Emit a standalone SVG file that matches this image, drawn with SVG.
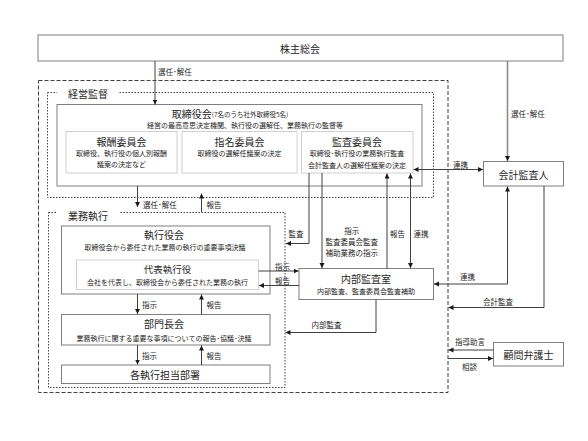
<svg xmlns="http://www.w3.org/2000/svg" width="588" height="441" viewBox="0 0 588 441">
<defs>
<marker id="ah" markerUnits="userSpaceOnUse" markerWidth="6" markerHeight="6" refX="5" refY="2.5" orient="auto-start-reverse">
<path d="M0,0 L5,2.5 L0,5 z" fill="#1a1a1a"/>
</marker>
<style>
text{font-family:"Noto Sans CJK JP","Noto Sans",sans-serif;fill:#262626;dominant-baseline:central}
.box{fill:#fff;stroke:#7f7f7f;stroke-width:1}
.sub{fill:#fff;stroke:#d0d0d0;stroke-width:1}
.t{font-size:10px;text-anchor:middle}
.d{font-size:7px;text-anchor:middle}
.l{font-size:7.5px}
.c{fill:none;stroke:#404040;stroke-width:1}
.ca{fill:none;stroke:#404040;stroke-width:1;marker-end:url(#ah)}
.cb{fill:none;stroke:#404040;stroke-width:1;marker-start:url(#ah);marker-end:url(#ah)}
.dash{fill:none;stroke:#404040;stroke-width:1;stroke-dasharray:4 2}
.dot{fill:none;stroke:#404040;stroke-width:1;stroke-dasharray:1.5 1.5}
</style>
</defs>
<rect width="588" height="441" fill="#fff"/>

<g id="group-outer">
<rect class="dash" x="38.5" y="80.5" width="409.5" height="312"/>
</g>
<g id="group-keiei">
<rect class="dot" x="47.5" y="92.5" width="386" height="105"/>
<rect x="57" y="87" width="62" height="12" fill="#fff"/>
<text class="t" x="88" y="93.5">経営監督</text>
</g>
<g id="group-gyomu">
<rect class="dot" x="48.5" y="212.5" width="236.5" height="175"/>
<rect x="57" y="207" width="62" height="12" fill="#fff"/>
<text class="t" x="88" y="215">業務執行</text>
</g>

<g id="kabunushi">
<rect class="box" x="38" y="35" width="525" height="26"/>
<text class="t" x="300" y="48">株主総会</text>
</g>

<g id="torishimariyakukai">
<rect class="box" x="57" y="104.5" width="365" height="81.5"/>
<text class="t" x="230" y="113.5">取締役会<tspan font-size="6.5px">(7名のうち社外取締役5名)</tspan></text>
<text class="d" x="245" y="124.5">経営の最高意思決定機関、執行役の選解任、業務執行の監督等</text>
</g>

<g id="hoshu">
<rect class="sub" x="66" y="131.5" width="111" height="41.5"/>
<text class="t" x="121.5" y="141.5">報酬委員会</text>
<text class="d" x="121.5" y="153">取締役、執行役の個人別報酬</text>
<text class="d" x="121.5" y="164">議案の決定など</text>
</g>

<g id="shimei">
<rect class="sub" x="182" y="131.5" width="115" height="41.5"/>
<text class="t" x="239.5" y="141.5">指名委員会</text>
<text class="d" x="239.5" y="153">取締役の選解任議案の決定</text>
</g>

<g id="kansa">
<rect class="sub" x="301.5" y="131.5" width="111.5" height="41.5"/>
<text class="t" x="357" y="141.5">監査委員会</text>
<text class="d" x="357" y="153">取締役･執行役の業務執行監査</text>
<text class="d" x="357" y="164.5">会計監査人の選解任議案の決定</text>
</g>

<g id="kaikei">
<rect class="box" x="483.5" y="161.5" width="80" height="24.5"/>
<text class="t" x="523.5" y="174">会計監査人</text>
</g>

<g id="shikkoyakukai">
<rect class="box" x="61.5" y="226" width="208.5" height="68"/>
<text class="t" x="164" y="234.5">執行役会</text>
<text class="d" x="165" y="246.5">取締役会から委任された業務の執行の重要事項決議</text>
</g>

<g id="daihyo">
<rect class="sub" x="76.5" y="260" width="182" height="29.5"/>
<text class="t" x="167.5" y="268.8" font-size="9.5px" style="font-size:9.5px">代表執行役</text>
<text class="d" x="167.5" y="281.5">会社を代表し、取締役会から委任された業務の執行</text>
</g>

<g id="naibu">
<rect class="box" x="299" y="268.5" width="134.5" height="31"/>
<text class="t" x="366" y="278">内部監査室</text>
<text class="d" x="366" y="291">内部監査、監査委員会監査補助</text>
</g>

<g id="bumoncho">
<rect class="box" x="61.5" y="314.5" width="208.5" height="30.5"/>
<text class="t" x="164" y="323.5">部門長会</text>
<text class="d" x="164" y="337.5">業務執行に関する重要な事項についての報告･協議･決議</text>
</g>

<g id="kakubusho">
<rect class="box" x="61.5" y="365" width="208.5" height="18.5"/>
<text class="t" x="165" y="374.3">各執行担当部署</text>
</g>

<g id="komon">
<rect class="box" x="493.5" y="342.5" width="70" height="23.5"/>
<text class="t" x="528.5" y="354">顧問弁護士</text>
</g>

<g id="connectors">
<path class="ca" d="M155,61 V104.5"/>
<path d="M507.5,61 V161" fill="none" stroke="#8c8c8c" stroke-width="1.6" marker-end="url(#ah)"/>
<path class="cb" d="M413.5,169.5 H483"/>
<path class="ca" d="M137.5,186 V207"/>
<path class="ca" d="M201.5,212 V193.5"/>
<path class="ca" d="M309,173 V243.5 H286"/>
<path class="ca" d="M322,173 V268"/>
<path class="ca" d="M387,268.5 V173.5"/>
<path class="cb" d="M410.5,173.5 V268"/>
<path class="cb" d="M507.5,186.5 V284 H434"/>
<path class="ca" d="M544,186 V307.5 H448.5"/>
<path class="ca" d="M258.5,271 H298.5"/>
<path class="ca" d="M299,285.5 H259"/>
<path class="ca" d="M376,299.5 V332.5 H285.5"/>
<path class="ca" d="M137.5,294 V314"/>
<path class="ca" d="M201.5,314.5 V294.5"/>
<path class="ca" d="M137.5,345 V364.5"/>
<path class="ca" d="M201.5,365 V345.5"/>
<path class="ca" d="M493.5,350 H448.5"/>
<path class="ca" d="M448,358.5 H493"/>
</g>

<g id="labels">
<text class="l" x="158" y="71.5">選任･解任</text>
<text class="l" x="511" y="113">選任･解任</text>
<text class="l" x="143" y="204">選任･解任</text>
<text class="l" x="206.5" y="204">報告</text>
<text class="l" x="453" y="164.5">連携</text>
<text class="l" x="288.5" y="233">監査</text>
<text class="l" x="351.7" y="230" text-anchor="middle">指示</text>
<text class="l" x="351.7" y="241.7" text-anchor="middle">監査委員会監査</text>
<text class="l" x="351.7" y="252.7" text-anchor="middle">補助業務の指示</text>
<text class="l" x="390" y="233">報告</text>
<text class="l" x="413.5" y="233">連携</text>
<text class="l" x="275" y="266">指示</text>
<text class="l" x="275" y="280.5">報告</text>
<text class="l" x="460" y="276">連携</text>
<text class="l" x="483" y="301.5">会計監査</text>
<text class="l" x="311.5" y="324.3">内部監査</text>
<text class="l" x="142" y="304">指示</text>
<text class="l" x="206.5" y="304">報告</text>
<text class="l" x="142" y="355.7">指示</text>
<text class="l" x="206.5" y="355.7">報告</text>
<text class="l" x="455" y="341.7">指導助言</text>
<text class="l" x="462" y="366">相談</text>
</g>
</svg>
